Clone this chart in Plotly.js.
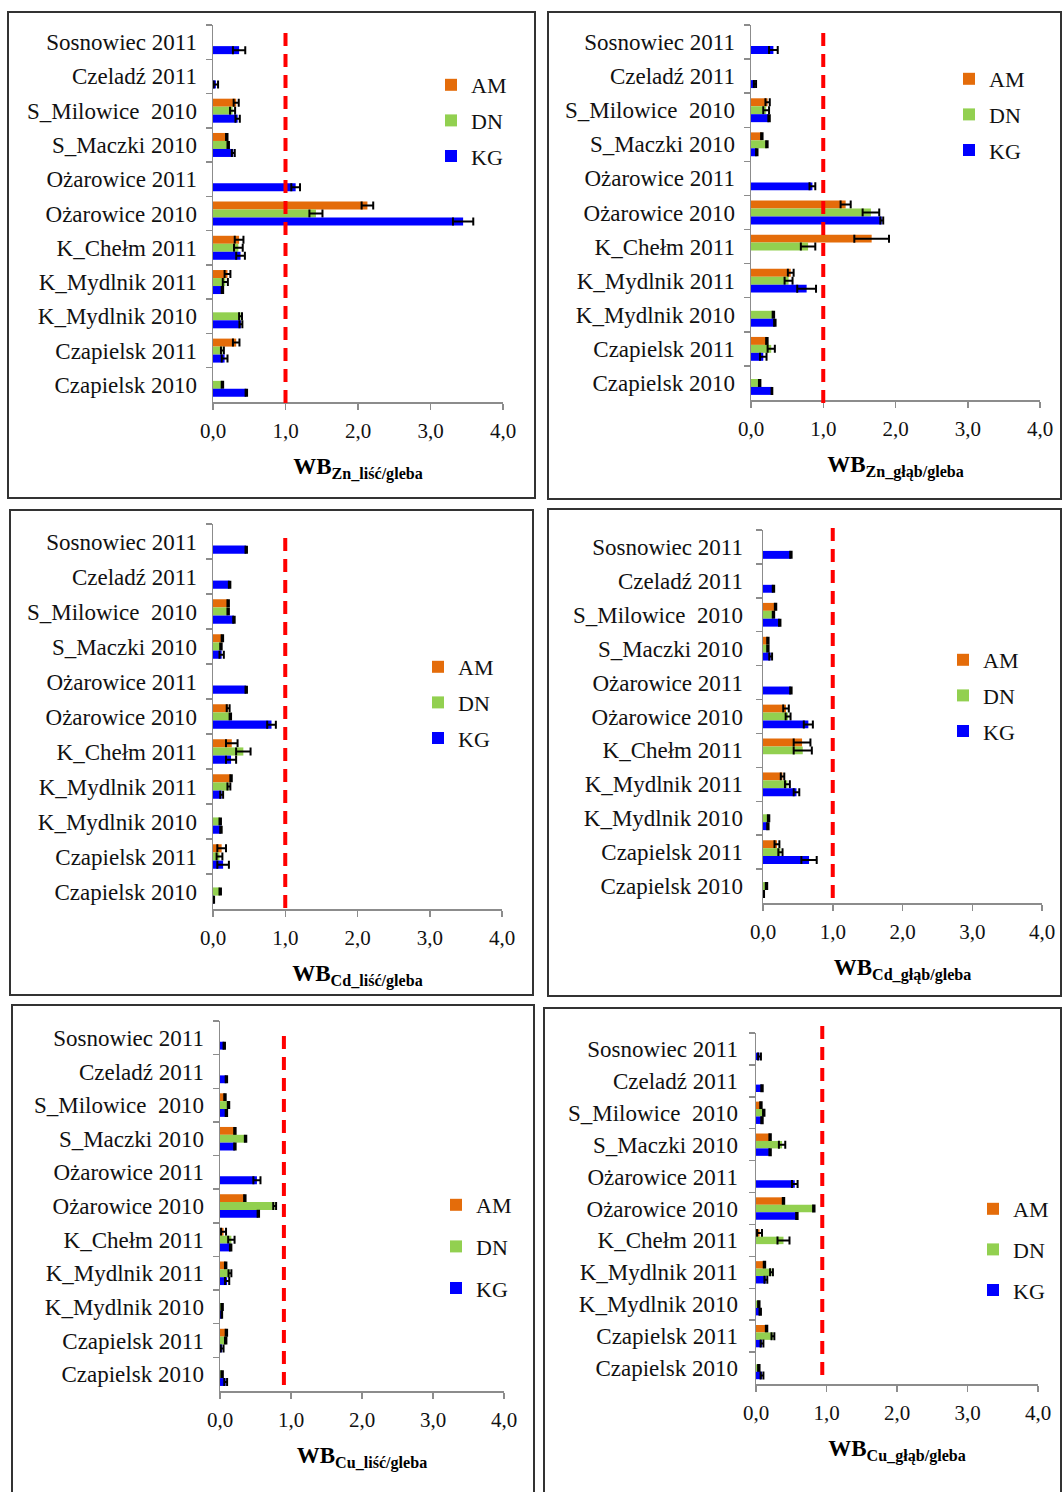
<!DOCTYPE html>
<html>
<head>
<meta charset="utf-8">
<script src="https://cdn.plot.ly/plotly-3.0.1.min.js"></script>
<style>html,body{margin:0;padding:0;background:#fff;}#chart{width:1062px;height:1492px;}</style>
</head>
<body>
<div id="chart"></div>
<script>
// ---------- DATA ----------
const categories = ["Sosnowiec 2011","Czeladź 2011","S_Milowice  2010","S_Maczki 2010","Ożarowice 2011","Ożarowice 2010","K_Chełm 2011","K_Mydlnik 2011","K_Mydlnik 2010","Czapielsk 2011","Czapielsk 2010"];
const seriesNames = ["AM","DN","KG"];
const xTicks = [0,1,2,3,4];
const panelTitles = ["WB<sub>Zn_liść/gleba</sub>","WB<sub>Zn_głąb/gleba</sub>","WB<sub>Cd_liść/gleba</sub>","WB<sub>Cd_głąb/gleba</sub>","WB<sub>Cu_liść/gleba</sub>","WB<sub>Cu_głąb/gleba</sub>"];
const thresholds = [1.0, 1.0, 1.0, 1.0, 0.9, 0.94];

// Zn leaf/soil
const znLeaf_AM     = [null,null,0.32,0.19,null,2.13,0.36,0.20,null,0.32,null];
const znLeaf_AM_err = [null,null,0.035,0.01,null,0.08,0.06,0.04,null,0.045,null];
const znLeaf_DN     = [null,null,0.27,0.21,null,1.42,0.35,0.17,0.38,0.13,0.13];
const znLeaf_DN_err = [null,null,0.035,0.01,null,0.09,0.06,0.035,0.02,0.02,0.01];
const znLeaf_KG     = [0.36,0.04,0.34,0.28,1.14,3.45,0.38,0.13,0.385,0.16,0.46];
const znLeaf_KG_err = [0.085,0.03,0.03,0.02,0.06,0.14,0.06,0.01,0.02,0.04,0.01];
// Zn root/soil
const znRoot_AM     = [null,null,0.23,0.15,null,1.31,1.67,0.55,null,0.22,null];
const znRoot_AM_err = [null,null,0.03,0.01,null,0.07,0.24,0.04,null,0.01,null];
const znRoot_DN     = [null,null,0.21,0.22,null,1.66,0.79,0.52,0.31,0.28,0.12];
const znRoot_DN_err = [null,null,0.04,0.01,null,0.115,0.10,0.055,0.01,0.05,0.01];
const znRoot_KG     = [0.31,0.055,0.25,0.08,0.85,1.81,null,0.77,0.33,0.17,0.29];
const znRoot_KG_err = [0.06,0.015,0.01,0.01,0.04,0.02,null,0.13,0.01,0.045,0.005];
// Cd leaf/soil
const cdLeaf_AM     = [null,null,0.21,0.13,null,0.21,0.26,0.25,null,0.12,null];
const cdLeaf_AM_err = [null,null,0.01,0.01,null,0.02,0.08,0.01,null,0.06,null];
const cdLeaf_DN     = [null,null,0.21,0.11,null,0.24,0.42,0.22,0.10,0.09,0.10];
const cdLeaf_DN_err = [null,null,0.01,0.01,null,0.01,0.10,0.02,0.01,0.04,0.01];
const cdLeaf_KG     = [0.46,0.23,0.29,0.12,0.46,0.81,0.25,0.12,0.11,0.14,0.01];
const cdLeaf_KG_err = [0.01,0.01,0.01,0.03,0.01,0.06,0.07,0.02,0.01,0.08,0.005];
// Cd root/soil
const cdRoot_AM     = [null,null,0.18,0.07,null,0.33,0.56,0.28,null,0.20,null];
const cdRoot_AM_err = [null,null,0.01,0.01,null,0.04,0.12,0.025,null,0.035,null];
const cdRoot_DN     = [null,null,0.15,0.07,null,0.36,0.57,0.35,0.08,0.25,0.05];
const cdRoot_DN_err = [null,null,0.01,0.01,null,0.035,0.13,0.035,0.01,0.03,0.01];
const cdRoot_KG     = [0.40,0.15,0.24,0.11,0.40,0.65,null,0.48,0.07,0.66,0.01];
const cdRoot_KG_err = [0.01,0.01,0.01,0.02,0.01,0.065,null,0.04,0.01,0.11,0.005];
// Cu leaf/soil
const cuLeaf_AM     = [null,null,0.07,0.21,null,0.35,0.05,0.08,null,0.09,null];
const cuLeaf_AM_err = [null,null,0.01,0.01,null,0.01,0.035,0.01,null,0.01,null];
const cuLeaf_DN     = [null,null,0.12,0.36,null,0.77,0.16,0.14,0.03,0.08,0.03];
const cuLeaf_DN_err = [null,null,0.01,0.01,null,0.02,0.045,0.02,0.01,0.01,0.01];
const cuLeaf_KG     = [0.06,0.09,0.09,0.21,0.52,0.54,0.15,0.10,0.025,0.03,0.08];
const cuLeaf_KG_err = [0.01,0.01,0.01,0.01,0.05,0.01,0.01,0.03,0.005,0.02,0.02];
// Cu root/soil
const cuRoot_AM     = [null,null,0.07,0.20,null,0.39,0.05,0.12,null,0.15,null];
const cuRoot_AM_err = [null,null,0.01,0.01,null,0.01,0.035,0.01,null,0.01,null];
const cuRoot_DN     = [null,null,0.11,0.37,null,0.82,0.39,0.22,0.04,0.24,0.04];
const cuRoot_DN_err = [null,null,0.01,0.045,null,0.01,0.085,0.02,0.01,0.02,0.01];
const cuRoot_KG     = [0.05,0.085,0.085,0.20,0.55,0.58,null,0.14,0.06,0.085,0.085];
const cuRoot_KG_err = [0.02,0.01,0.01,0.01,0.04,0.01,null,0.02,0.01,0.02,0.02];

const panelData = [
  [[znLeaf_AM,znLeaf_AM_err],[znLeaf_DN,znLeaf_DN_err],[znLeaf_KG,znLeaf_KG_err]],
  [[znRoot_AM,znRoot_AM_err],[znRoot_DN,znRoot_DN_err],[znRoot_KG,znRoot_KG_err]],
  [[cdLeaf_AM,cdLeaf_AM_err],[cdLeaf_DN,cdLeaf_DN_err],[cdLeaf_KG,cdLeaf_KG_err]],
  [[cdRoot_AM,cdRoot_AM_err],[cdRoot_DN,cdRoot_DN_err],[cdRoot_KG,cdRoot_KG_err]],
  [[cuLeaf_AM,cuLeaf_AM_err],[cuLeaf_DN,cuLeaf_DN_err],[cuLeaf_KG,cuLeaf_KG_err]],
  [[cuRoot_AM,cuRoot_AM_err],[cuRoot_DN,cuRoot_DN_err],[cuRoot_KG,cuRoot_KG_err]]
];

// ---------- LAYOUT GEOMETRY (pixels) ----------
const W = 1062, H = 1492;
const geo = [
  {px0:213,px1:503,py0:25,py1:402,  red:[25,403],  lx:431, ly:64,   gap:4,  box:[8,12,535,498], lstand:10},
  {px0:751,px1:1040,py0:25,py1:400, red:[25,403],  lx:949, ly:58,   gap:4,  box:[548,12,1061,499], lstand:10},
  {px0:213,px1:502,py0:524,py1:909, red:[535,908], lx:418, ly:646,  gap:4,  box:[10,510,533,995], lstand:10},
  {px0:763,px1:1042,py0:530,py1:903,red:[523,898], lx:943, ly:639,  gap:4,  box:[548,509,1061,996], lstand:14},
  {px0:220,px1:504,py0:1021,py1:1391,red:[1035,1385],lx:436,ly:1184, gap:10, box:[12,1005,534,1494], lstand:10},
  {px0:756,px1:1038,py0:1033,py1:1384,red:[1023,1375],lx:973,ly:1188, gap:9, box:[544,1008,1061,1494], lstand:12}
];
const colors = {AM:"#E46C0A", DN:"#92D050", KG:"#0000FF"};
const px = v => v / W;
const py = v => 1 - v / H;
const FONT = "Liberation Serif";

const traces = [];
const layout = {
  width: W, height: H,
  margin: {l:0, r:0, t:0, b:0},
  paper_bgcolor: "#fff", plot_bgcolor: "#fff",
  separators: ", ",
  barmode: "group", bargap: 0.3, bargroupgap: 0,
  font: {family: FONT, color: "#111"},
  shapes: [], annotations: []
};

geo.forEach((g, i) => {
  const sfx = i === 0 ? "" : String(i + 1);
  const xa = "x" + sfx, ya = "y" + sfx;
  const leg = "legend" + sfx;
  seriesNames.forEach((s, k) => {
    const [vals, errs] = panelData[i][k];
    traces.push({
      type: "bar", orientation: "h",
      name: s, x: vals, y: categories,
      xaxis: xa, yaxis: ya,
      legend: leg, legendgroup: "p" + i + s,
      marker: {color: colors[s]},
      error_x: {type: "data", array: errs, visible: true, color: "#000", thickness: 2, width: 4},
      hoverinfo: "x+y"
    });
  });
  layout["xaxis" + sfx] = {
    domain: [px(g.px0), px(g.px1)], anchor: ya,
    range: [0, 4], tickvals: xTicks, tickformat: ".1f",
    ticks: "outside", ticklen: 6, tickcolor: "#8c8c8c", tickwidth: 1.5,
    showline: true, linecolor: "#8c8c8c", linewidth: 1.5,
    showgrid: false, zeroline: false, fixedrange: true,
    ticklabelstandoff: 3,
    tickfont: {family: FONT, size: 21, color: "#111"},
    title: {text: "<b>" + panelTitles[i] + "</b>", standoff: 16,
            font: {family: FONT, size: 23, color: "#000"}}
  };
  layout["yaxis" + sfx] = {
    domain: [py(g.py1), py(g.py0)], anchor: xa,
    type: "category", categoryorder: "array", categoryarray: categories,
    autorange: "reversed",
    tickson: "boundaries", ticks: "outside", ticklen: 6, tickcolor: "#8c8c8c", tickwidth: 1.5,
    showline: true, linecolor: "#8c8c8c", linewidth: 1.5,
    showgrid: false, zeroline: false, fixedrange: true,
    ticklabelstandoff: g.lstand,
    tickfont: {family: FONT, size: 23, color: "#111"}
  };
  layout[leg] = {
    x: px(g.lx), y: py(g.ly), xanchor: "left", yanchor: "top",
    bgcolor: "rgba(0,0,0,0)", borderwidth: 0,
    font: {family: FONT, size: 22, color: "#111"},
    itemwidth: 30, tracegroupgap: g.gap, traceorder: "grouped"
  };
  layout.shapes.push({type: "rect", xref: "paper", yref: "paper",
    x0: px(g.box[0]), x1: px(g.box[2]), y0: py(g.box[3]), y1: py(g.box[1]),
    line: {color: "#333", width: 2}, fillcolor: "rgba(0,0,0,0)"});
  layout.shapes.push({type: "line", xref: xa, yref: "paper",
    x0: thresholds[i], x1: thresholds[i], y0: py(g.red[1]), y1: py(g.red[0]),
    line: {color: "#FF0000", width: 4, dash: "13px,8px"}});
});

Plotly.newPlot("chart", traces, layout, {displayModeBar: false, staticPlot: true});
</script>
</body>
</html>
